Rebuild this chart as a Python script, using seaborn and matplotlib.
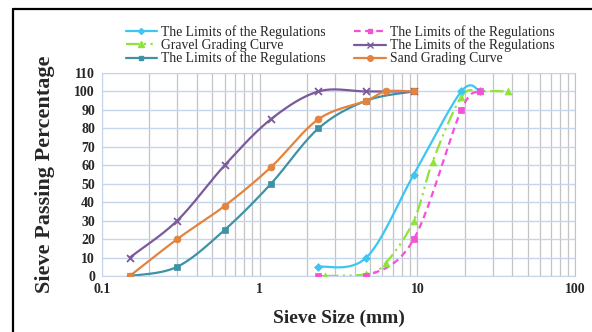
import numpy as np
import pandas as pd
import matplotlib
matplotlib.use("Agg")
import matplotlib.pyplot as plt
from matplotlib.lines import Line2D
from matplotlib.ticker import FixedLocator, FixedFormatter, LogLocator, NullFormatter
import seaborn as sns

# sand sieves (mm) and passing percentages
SAND_SIEVE = [0.15, 0.3, 0.6, 1.18, 2.36, 4.75, 9.5]
SAND_LOWER = [0, 5, 25, 50, 80, 95, 100]
SAND_UPPER = [10, 30, 60, 85, 100, 100, 100]
SAND_CURVE_SIEVE = [0.15, 0.3, 0.6, 1.18, 2.36, 4.75, 6.3, 9.5]
SAND_CURVE = [0, 20, 38, 59, 85, 95, 100, 100]

# gravel sieves (mm) and passing percentages
GRAVEL_LIMIT_SIEVE = [2.36, 4.75, 9.5, 19, 25]
GRAVEL_UPPER = [5, 10, 55, 100, 100]
GRAVEL_LOWER = [0, 0, 20, 90, 100]
GRAVEL_CURVE_SIEVE = [2.6, 4.75, 6.3, 9.5, 12.5, 19, 25, 37.5]
GRAVEL_CURVE = [0, 1, 7, 30, 62, 97, 100, 100]

LIMIT_LABEL = "The Limits of the Regulations"

# (label, x, y, color, marker, dashes, marker size)
SERIES = [
    (LIMIT_LABEL, GRAVEL_LIMIT_SIEVE, GRAVEL_UPPER, "#3cc6f2", "D", None, 4),
    ("Gravel Grading Curve", GRAVEL_CURVE_SIEVE, GRAVEL_CURVE, "#8fe33a", "^", (6, 2, 1, 2, 1, 2), 5),
    (LIMIT_LABEL, SAND_SIEVE, SAND_LOWER, "#3f92a6", "s", None, 4),
    (LIMIT_LABEL, GRAVEL_LIMIT_SIEVE, GRAVEL_LOWER, "#f74fd9", "s", (3, 2), 4),
    (LIMIT_LABEL, SAND_SIEVE, SAND_UPPER, "#7a5a9c", "x", None, 5),
    ("Sand Grading Curve", SAND_CURVE_SIEVE, SAND_CURVE, "#e2843f", "o", None, 5),
]


def smooth(xs, ys, n=40, k=6.0):
    """Excel-like smoothed line: Catmull-Rom beziers in log-x space."""
    pts = np.column_stack([np.log10(xs), np.asarray(ys, float)])
    out = []
    t = np.linspace(0, 1, n)[:, None]
    for i in range(len(pts) - 1):
        p0 = pts[max(i - 1, 0)]
        p1, p2 = pts[i], pts[i + 1]
        p3 = pts[min(i + 2, len(pts) - 1)]
        c1 = p1 + (p2 - p0) / k
        c2 = p2 - (p3 - p1) / k
        seg = ((1 - t) ** 3) * p1 + 3 * ((1 - t) ** 2) * t * c1 + 3 * (1 - t) * t ** 2 * c2 + t ** 3 * p2
        out.append(seg if i == 0 else seg[1:])
    seg = np.vstack(out)
    return pd.DataFrame({"x": 10 ** seg[:, 0], "y": seg[:, 1]})


sns.set_style("white")
plt.rcParams["font.family"] = ["Liberation Serif", "DejaVu Serif"]

fig = plt.figure(figsize=(5.92, 3.32), dpi=100)
ax = fig.add_axes([102 / 592, 1 - 276 / 332, 473 / 592, 203 / 332])

handles = []
for label, xs, ys, color, marker, dashes, ms in SERIES:
    curve = smooth(xs, ys)
    ls = (0, dashes) if dashes else "-"
    sns.lineplot(data=curve, x="x", y="y", ax=ax, color=color, lw=1.6,
                 linestyle=ls, sort=False, estimator=None, legend=False)
    pts = pd.DataFrame({"x": xs, "y": ys})
    if marker == "x":
        sns.scatterplot(data=pts, x="x", y="y", ax=ax, color=color, marker="x",
                        s=ms ** 2, linewidth=1.3, legend=False, zorder=5)
    else:
        sns.scatterplot(data=pts, x="x", y="y", ax=ax, color=color, marker=marker,
                        s=ms ** 2, edgecolor=color, linewidth=0.5, legend=False, zorder=5)
    handles.append(Line2D([], [], color=color, lw=1.6, linestyle=ls, marker=marker,
                          markersize=ms - 1, markeredgecolor=color, label=label))

ax.set_xscale("log")
ax.set_xlim(0.1, 100)
ax.set_ylim(0, 110)
ax.set_yticks(range(0, 111, 10))
ax.xaxis.set_major_locator(FixedLocator([0.1, 1, 10, 100]))
ax.xaxis.set_major_formatter(FixedFormatter(["0.1", "1", "10", "100"]))
ax.xaxis.set_minor_locator(LogLocator(base=10, subs=np.arange(2, 10)))
ax.xaxis.set_minor_formatter(NullFormatter())

ax.grid(axis="y", color="#c5d5ec", lw=1.0)
ax.grid(axis="x", which="both", color="#c4c4c4", lw=0.9)
ax.set_axisbelow(True)
for side in ["left", "top", "bottom"]:
    ax.spines[side].set_color("#c5d5ec")
ax.spines["right"].set_color("#c4c4c4")
ax.tick_params(axis="both", which="both", length=0, labelsize=10, pad=5)
for lab in ax.get_xticklabels() + ax.get_yticklabels():
    lab.set_fontweight("bold")

ax.set_xlabel("Sieve Size (mm)", fontsize=14, fontweight="bold", labelpad=10)
ax.set_ylabel("Sieve Passing Percentage", fontsize=16, fontweight="bold", labelpad=14)

fig.legend(handles=handles, loc="upper left", bbox_to_anchor=(119 / 592, 1 - 18 / 332),
           ncol=2, frameon=False, fontsize=9.8, handlelength=2.3, labelspacing=0.0,
           columnspacing=2.1, handletextpad=0.3, borderpad=0)

# black frame lines at left and top of the picture
fig.add_artist(Line2D([13 / 592, 13 / 592], [0, 1 - 9 / 332], color="black", lw=1.6,
                      transform=fig.transFigure))
fig.add_artist(Line2D([13 / 592, 1], [1 - 9 / 332, 1 - 9 / 332], color="black", lw=1.6,
                      transform=fig.transFigure))

fig.savefig("out.png", dpi=100)
